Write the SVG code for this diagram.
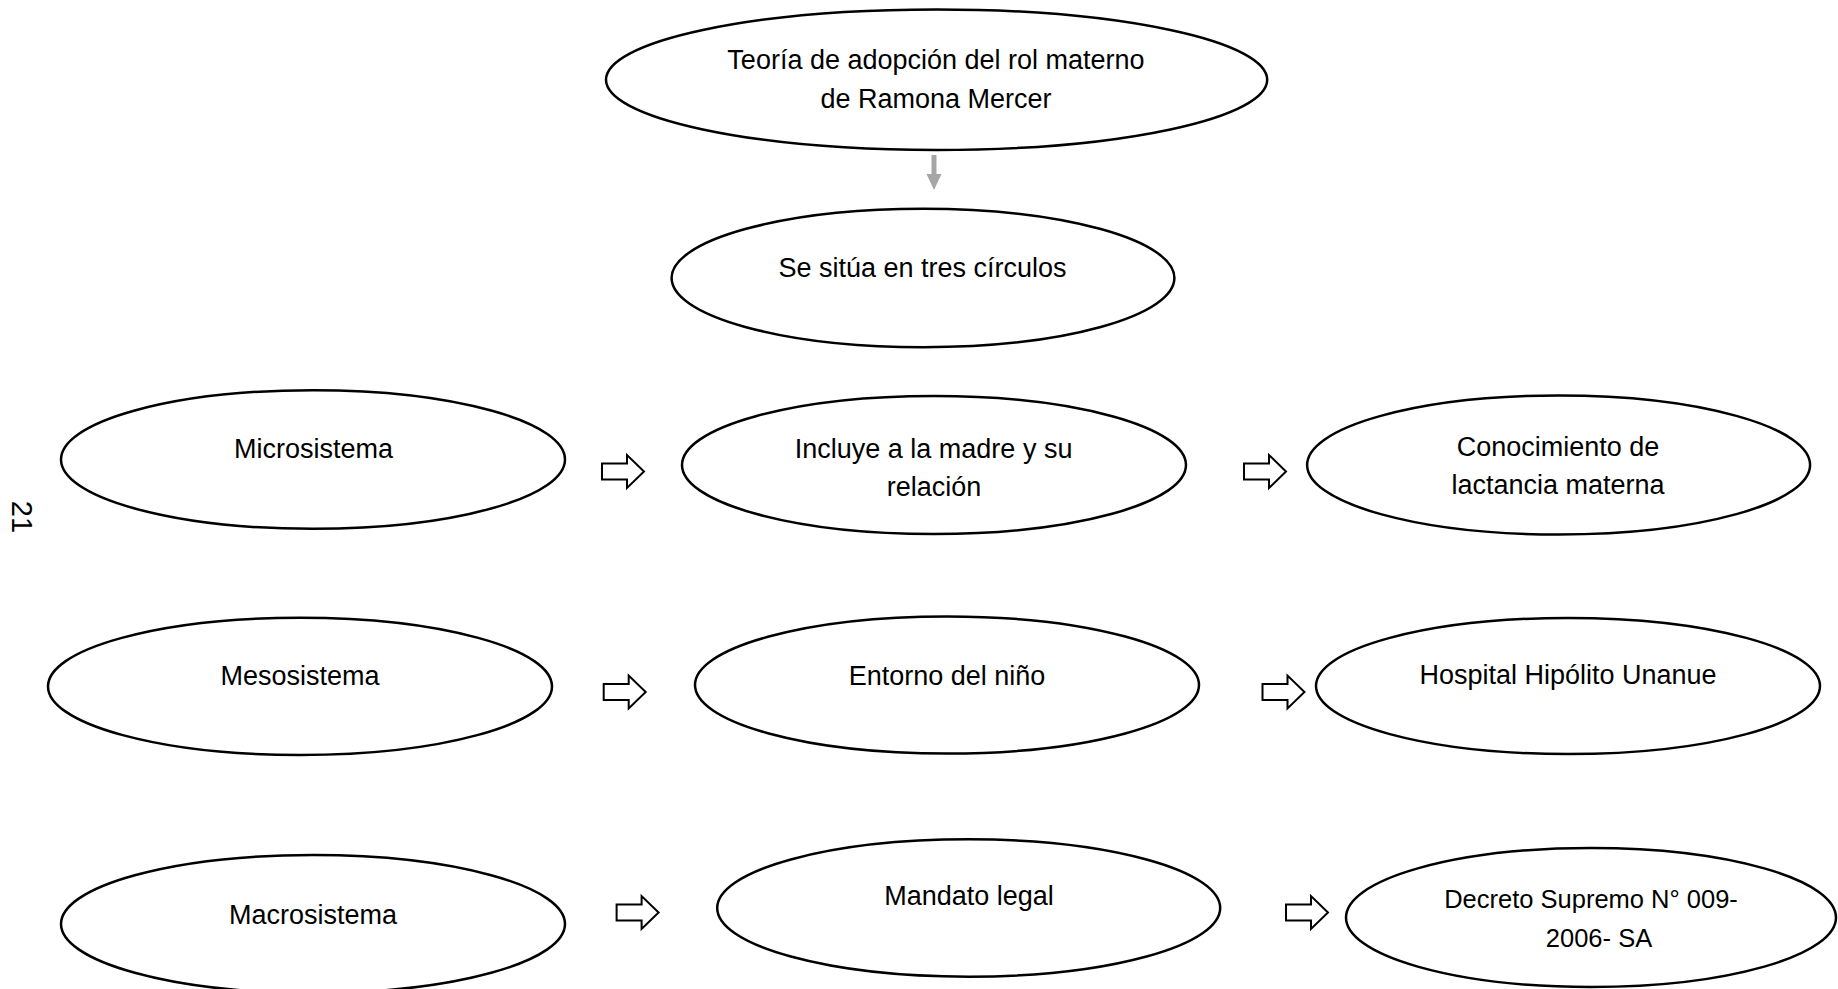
<svg xmlns="http://www.w3.org/2000/svg" xmlns:xlink="http://www.w3.org/1999/xlink" width="1838" height="989" viewBox="0 0 1838 989">
<style>
.n{fill:#fff;stroke:#000;stroke-width:2.5}
.t{font-family:"Liberation Sans",Arial,sans-serif;font-size:27px;fill:#000;text-anchor:middle}
.s{font-size:25.5px}
.ba{fill:#fff;stroke:#000;stroke-width:2;stroke-linejoin:miter}
</style>
<defs>
<polygon id="blk" class="ba" points="0,-8 25,-8 25,-16.5 42,0 25,16.5 25,8 0,8"/>
</defs>
<rect width="1838" height="989" fill="#fff"/>
<text x="22" y="517" font-family="Liberation Sans,Arial,sans-serif" font-size="29" text-anchor="middle" dominant-baseline="central" transform="rotate(90 22 517)">21</text>
<g id="n-teoria"><ellipse class="n" cx="936.6" cy="79.7" rx="330.6" ry="70.3"/><text class="t" x="936" y="69.3">Teoría de adopción del rol materno</text><text class="t" x="936" y="108">de Ramona Mercer</text></g>
<g id="n-situa"><ellipse class="n" cx="923" cy="278" rx="251.4" ry="69.2"/><text class="t" x="922.5" y="277">Se sitúa en tres círculos</text></g>
<g id="n-micro"><ellipse class="n" cx="313" cy="459.5" rx="252" ry="69.3"/><text class="t" x="313.6" y="457.5">Microsistema</text></g>
<g id="n-incluye"><ellipse class="n" cx="934" cy="465" rx="252" ry="69"/><text class="t" x="933.6" y="457.5">Incluye a la madre y su</text><text class="t" x="934" y="496.2">relación</text></g>
<g id="n-conoc"><ellipse class="n" cx="1558.6" cy="465" rx="251.5" ry="69.5"/><text class="t" x="1558" y="456">Conocimiento de</text><text class="t" x="1558" y="494">lactancia materna</text></g>
<g id="n-meso"><ellipse class="n" cx="300" cy="686.4" rx="252" ry="68.6"/><text class="t" x="300" y="684.7">Mesosistema</text></g>
<g id="n-entorno"><ellipse class="n" cx="947" cy="685" rx="252" ry="68.5"/><text class="t" x="947" y="684.5">Entorno del niño</text></g>
<g id="n-hospital"><ellipse class="n" cx="1568" cy="686" rx="252" ry="68"/><text class="t" x="1568" y="683.5">Hospital Hipólito Unanue</text></g>
<g id="n-macro"><ellipse class="n" cx="313" cy="924" rx="252" ry="69"/><text class="t" x="313" y="923.5">Macrosistema</text></g>
<g id="n-mandato"><ellipse class="n" cx="968.7" cy="908" rx="251.5" ry="68.7"/><text class="t" x="969" y="905">Mandato legal</text></g>
<g id="n-decreto"><ellipse class="n" cx="1591" cy="917.5" rx="245" ry="69.5"/><text class="t s" x="1591" y="907.5">Decreto Supremo N° 009-</text><text class="t s" x="1599" y="947.3">2006- SA</text></g>
<g id="connectors">
<line x1="934" y1="155" x2="934" y2="176" stroke="#a6a6a6" stroke-width="5"/>
<polygon points="926.5,174 941.5,174 934,190" fill="#a6a6a6"/>
<use xlink:href="#blk" href="#blk" x="602" y="471.5"/>
<use xlink:href="#blk" href="#blk" x="1244" y="471.5"/>
<use xlink:href="#blk" href="#blk" x="603.7" y="692"/>
<use xlink:href="#blk" href="#blk" x="1262.5" y="692"/>
<use xlink:href="#blk" href="#blk" x="616.6" y="912.5"/>
<use xlink:href="#blk" href="#blk" x="1286" y="912.5"/>
</g>
</svg>
